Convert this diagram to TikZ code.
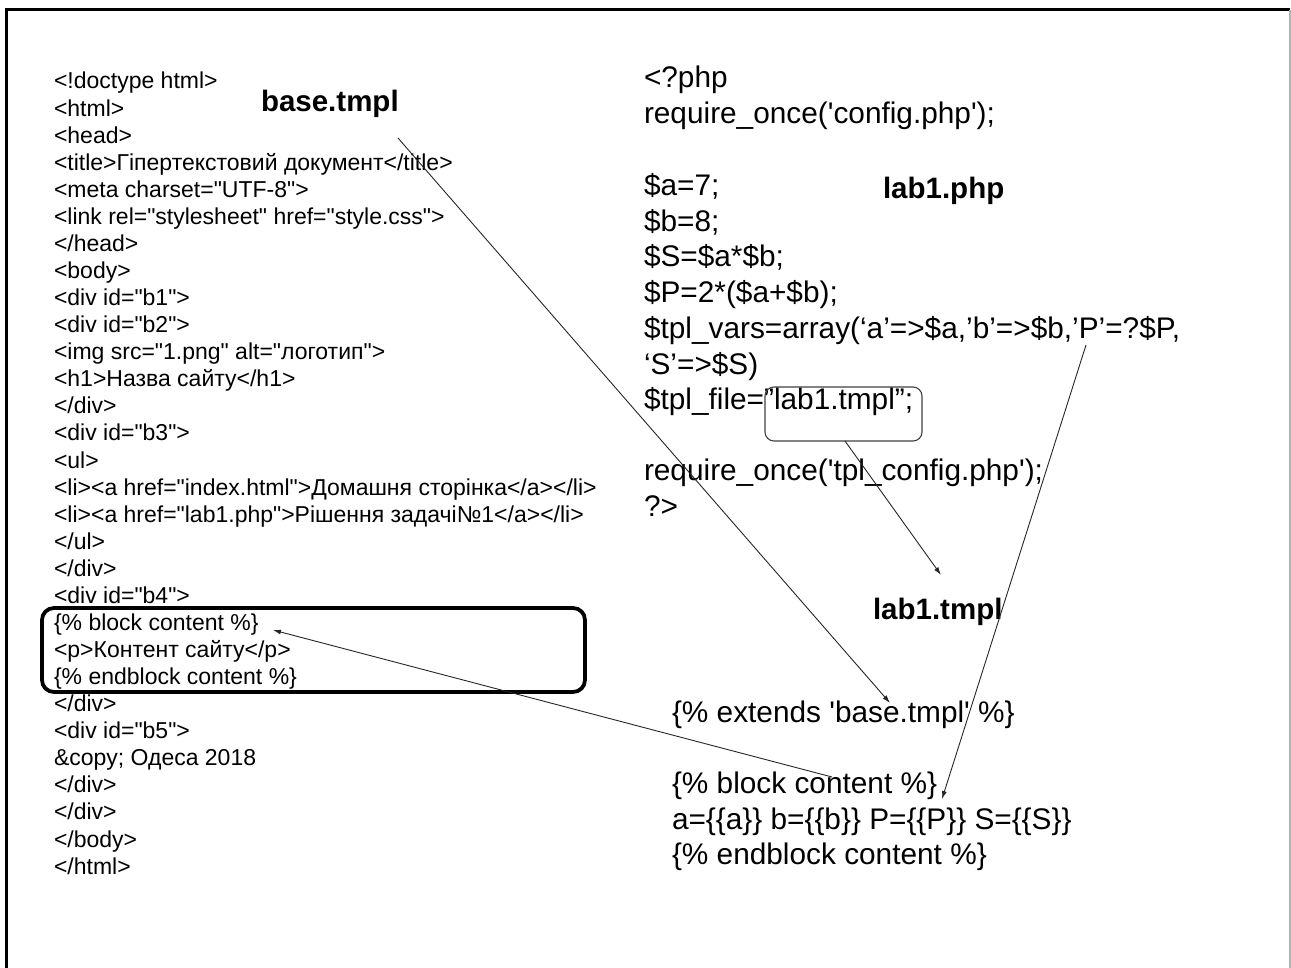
\documentclass[tikz,border=0pt]{standalone}
\usepackage{fontspec}
\setmainfont{Liberation Sans}[Ligatures=TeXOff]
\usetikzlibrary{arrows.meta}
\begin{document}
\begin{tikzpicture}[x=1pt,y=-1pt,
  every node/.style={inner sep=0pt,outer sep=0pt},
  html/.style={anchor=base west,font=\fontsize{23}{27}\selectfont},
  php/.style={anchor=base west,font=\fontsize{29.8}{35}\selectfont},
  filetitle/.style={anchor=base west,font=\fontsize{29.5}{35}\selectfont\bfseries},
  link/.style={draw=black!85,line width=0.9pt,-{Latex[length=8pt,width=5pt]}},
  blockframe/.style={draw=black,line width=3.8pt,rounded corners=12pt},
  namebox/.style={draw=black!75,line width=1.1pt,rounded corners=9pt}]
\useasboundingbox (0,0) rectangle (1291,968);

% page frame
\draw[line width=3pt] (6.5,968) -- (6.5,10) -- (1290,10);
\draw[black!30,line width=1.2pt] (1290,10) -- (1290,968);

% base.tmpl
\node[html] (h1)  at (54,89.0)  {<!doctype html>};
\node[html] (h2)  at (54,116.1) {<html>};
\node[html] (h3)  at (54,143.1) {<head>};
\node[html] (h4)  at (54,170.2) {<title>Гіпертекстовий документ</title>};
\node[html] (h5)  at (54,197.3) {<meta charset="UTF-8">};
\node[html] (h6)  at (54,224.4) {<link rel="stylesheet" href="style.css">};
\node[html] (h7)  at (54,251.4) {</head>};
\node[html] (h8)  at (54,278.5) {<body>};
\node[html] (h9)  at (54,305.6) {<div id="b1">};
\node[html] (h10) at (54,332.6) {<div id="b2">};
\node[html] (h11) at (54,359.7) {<img src="1.png" alt="логотип">};
\node[html] (h12) at (54,386.8) {<h1>Назва сайту</h1>};
\node[html] (h13) at (54,413.8) {</div>};
\node[html] (h14) at (54,440.9) {<div id="b3">};
\node[html] (h15) at (54,468.0) {<ul>};
\node[html] (h16) at (54,495.1) {<li><a href="index.html">Домашня сторінка</a></li>};
\node[html] (h17) at (54,522.1) {<li><a href="lab1.php">Рішення задачі№1</a></li>};
\node[html] (h18) at (54,549.2) {</ul>};
\node[html] (h19) at (54,576.3) {</div>};
\node[html] (h20) at (54,603.3) {<div id="b4">};
\node[html] (h21) at (54,630.4) {\{\% block content \%\}};
\node[html] (h22) at (54,657.5) {<p>Контент сайту</p>};
\node[html] (h23) at (54,684.5) {\{\% endblock content \%\}};
\node[html] (h24) at (54,711.6) {</div>};
\node[html] (h25) at (54,738.7) {<div id="b5">};
\node[html] (h26) at (54,765.8) {\&copy; Одеса 2018};
\node[html] (h27) at (54,792.8) {</div>};
\node[html] (h28) at (54,819.9) {</div>};
\node[html] (h29) at (54,847.0) {</body>};
\node[html] (h30) at (54,874.0) {</html>};
\draw[blockframe] (42,608) rectangle (585,692);

% lab1.php
\node[php] (p1)  at (644,88.0)  {<?php};
\node[php] (p2)  at (644,123.7) {require\_once('config.php');};
\node[php] (p3)  at (644,195.6) {\$a=7;};
\node[php] (p4)  at (644,231.3) {\$b=8;};
\node[php] (p5)  at (644,267.0) {\$S=\$a*\$b;};
\node[php] (p6)  at (644,302.7) {\$P=2*(\$a+\$b);};
\node[php] (p7)  at (644,338.4) {\$tpl\_vars=array(‘a’=>\$a,’b’=>\$b,’P’=?\$P,};
\node[php] (p8)  at (644,374.1) {‘S’=>\$S)};
\node[php] (p9)  at (644,409.8) {\$tpl\_file=”lab1.tmpl”;};
\node[php] (p10) at (644,480.7) {require\_once('tpl\_config.php');};
\node[php] (p11) at (644,516.4) {?>};
\node[namebox,minimum width=157pt,minimum height=54pt] (fname) at (843.5,414) {};

% lab1.tmpl
\node[php] (t1) at (672,722.5) {\{\% extends 'base.tmpl' \%\}};
\node[php] (t2) at (672,793.5) {\{\% block content \%\}};
\node[php] (t3) at (672,829.0) {a=\{\{a\}\} b=\{\{b\}\} P=\{\{P\}\} S=\{\{S\}\}};
\node[php] (t4) at (672,864.5) {\{\% endblock content \%\}};

% file names
\node[filetitle] (nbase) at (261,112) {base.tmpl};
\node[filetitle] (nphp)  at (883,199) {lab1.php};
\node[filetitle] (ntmpl) at (873,619) {lab1.tmpl};

% connectors
\coordinate (baseFrom) at (398,138);
\coordinate (baseTo)   at (890,703);
\coordinate (tmplTo)   at (941,575);
\coordinate (varsFrom) at (1086,345);
\coordinate (varsTo)   at (942,799);
\coordinate (blockFrom) at (832,777);
\coordinate (blockTo)   at (273,630);
\draw[link] (baseFrom) -- (baseTo);
\draw[link] ([xshift=1.5pt]fname.south) -- (tmplTo);
\draw[link] (varsFrom) -- (varsTo);
\draw[link] (blockFrom) -- (blockTo);
\end{tikzpicture}
\end{document}
